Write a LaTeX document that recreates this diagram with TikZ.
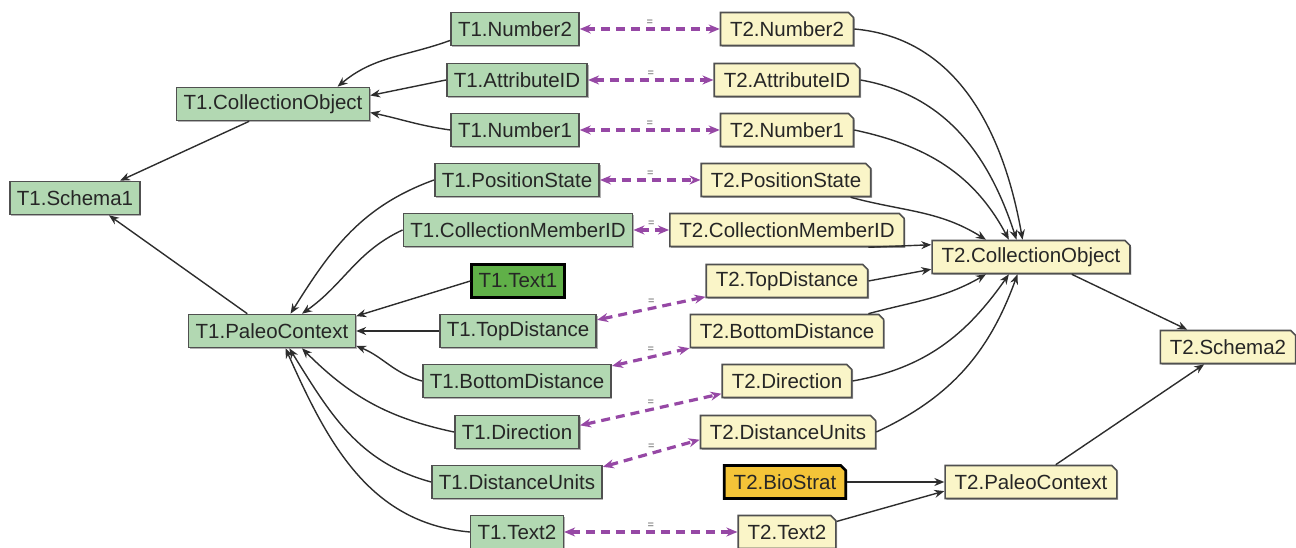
\documentclass[tikz,border=0pt]{standalone}
\usepackage{fontspec}
\setmainfont{Liberation Sans}
\usetikzlibrary{shapes.misc,arrows.meta,shadows}
\definecolor{gfill}{RGB}{178,216,178}
\definecolor{gdark}{RGB}{96,176,72}
\definecolor{yfill}{RGB}{250,245,200}
\definecolor{ydark}{RGB}{244,196,56}
\definecolor{boxline}{RGB}{80,80,80}
\definecolor{edgecol}{RGB}{45,45,45}
\definecolor{purp}{RGB}{150,72,165}
\begin{document}
\begin{tikzpicture}[x=1pt,y=1pt,
  base/.style={draw=boxline, line width=1.6pt, minimum height=33pt, inner xsep=7pt, inner ysep=2pt,
    font=\fontsize{20.5}{24}\selectfont, text=black!85,
    drop shadow={shadow xshift=1.3pt, shadow yshift=-1.3pt, opacity=0.3, fill=black}},
  gbox/.style={base, rectangle, fill=gfill},
  ybox/.style={base, chamfered rectangle, chamfered rectangle corners=north east,
    chamfered rectangle xsep=2.5pt, chamfered rectangle ysep=2.5pt, fill=yfill},
  strong/.style={draw=black, line width=2.6pt},
  edge/.style={draw=edgecol, line width=1.4pt, -{Stealth[length=10pt,width=8pt]}},
  match/.style={draw=purp, line width=3.2pt, dash pattern=on 9pt off 6pt,
    {Stealth[length=11pt,width=9pt]}-{Stealth[length=11pt,width=9pt]}},
  eq/.style={font=\fontsize{11}{11}\selectfont, text=gray!75!black, inner sep=0.5pt}
]
\useasboundingbox (0,0) rectangle (1296,548);

% T1 side
\node[gbox] (n2a) at (515,519) {T1.Number2};
\node[gbox] (aida) at (517,468) {T1.AttributeID};
\node[gbox] (n1a) at (515,418) {T1.Number1};
\node[gbox] (coa) at (273,444) {T1.CollectionObject};
\node[gbox] (s1) at (75,350) {T1.Schema1};
\node[gbox] (psa) at (517,368) {T1.PositionState};
\node[gbox] (cma) at (518,318) {T1.CollectionMemberID};
\node[gbox, strong, fill=gdark] (t1a) at (518,267) {T1.Text1};
\node[gbox] (pca) at (272,217) {T1.PaleoContext};
\node[gbox] (tda) at (518,217) {T1.TopDistance};
\node[gbox] (bda) at (517,167) {T1.BottomDistance};
\node[gbox] (dra) at (517,116) {T1.Direction};
\node[gbox] (dua) at (517,66) {T1.DistanceUnits};
\node[gbox] (t2a) at (517,16) {T1.Text2};

% T2 side
\node[ybox] (n2b) at (787,519) {T2.Number2};
\node[ybox] (aidb) at (787,468) {T2.AttributeID};
\node[ybox] (n1b) at (787,418) {T2.Number1};
\node[ybox] (psb) at (786,368) {T2.PositionState};
\node[ybox] (cmb) at (787,318) {T2.CollectionMemberID};
\node[ybox] (tdb) at (787,267) {T2.TopDistance};
\node[ybox] (bdb) at (787,217) {T2.BottomDistance};
\node[ybox] (drb) at (787,167) {T2.Direction};
\node[ybox] (dub) at (788,116) {T2.DistanceUnits};
\node[ybox, strong, fill=ydark] (bsb) at (785,66) {T2.BioStrat};
\node[ybox] (t2b) at (787,16) {T2.Text2};
\node[ybox] (cob) at (1031,291) {T2.CollectionObject};
\node[ybox] (s2) at (1228,201) {T2.Schema2};
\node[ybox] (pcb) at (1031,66) {T2.PaleoContext};

% T1 edges
\draw[edge] (n2a.190) to[out=200,in=40] (coa.15);
\draw[edge] (aida.west) -- (coa.5);
\draw[edge] (n1a.west) to[out=172,in=-12] (coa.-5);
\draw[edge] (coa.216) -- (s1.21);
\draw[edge] (pca.145) -- (s1.-27);
\draw[edge] (psa.west) to[out=200,in=58] (pca.43);
\draw[edge] (cma.west) to[out=205,in=35] (pca.30);
\draw[edge] (t1a.west) -- (pca.10);
\draw[edge] (tda.west) -- (pca.east);
\draw[edge] (bda.west) to[out=165,in=-22] (pca.-10);
\draw[edge] (dra.west) to[out=168,in=-45] (pca.-30);
\draw[edge] (dua.west) to[out=165,in=-58] (pca.-45);
\draw[edge] (t2a.west) to[out=175,in=-66] (pca.-52);

% T2 edges
\draw[edge] (n2b.east) to[out=-5,in=100] (cob.116);
\draw[edge] (aidb.east) to[out=-10,in=108] (cob.130);
\draw[edge] (n1b.east) to[out=-12,in=118] (cob.142);
\draw[edge] (psb.-15) to[out=-15,in=148] (cob.159);
\draw[edge] (cmb.-12) -- (cob.173);
\draw[edge] (tdb.east) -- (cob.187);
\draw[edge] (bdb.12) to[out=15,in=-150] (cob.201);
\draw[edge] (drb.east) to[out=10,in=-125] (cob.218);
\draw[edge] (dub.east) to[out=25,in=-110] (cob.232);
\draw[edge] (cob.-23) -- (s2.157);
\draw[edge] (pcb.35) -- (s2.216);
\draw[edge] (bsb.east) -- (pcb.west);
\draw[edge] (t2b.12) -- (pcb.186);

% matches
\draw[match] (n2a.east) -- node[eq, midway, above=1pt]{=} (n2b.west);
\draw[match] (aida.east) -- node[eq, midway, above=1pt]{=} (aidb.west);
\draw[match] (n1a.east) -- node[eq, midway, above=1pt]{=} (n1b.west);
\draw[match] (psa.east) -- node[eq, midway, above=1pt]{=} (psb.west);
\draw[match] (cma.east) -- node[eq, midway, above=1pt]{=} (cmb.west);
\draw[match] (tda.8) -- node[eq, midway, above=2pt]{=} (tdb.191);
\draw[match] (bda.9) -- node[eq, midway, above=2pt]{=} (bdb.190);
\draw[match] (dra.6) -- node[eq, midway, above=2pt]{=} (drb.191);
\draw[match] (dua.10) -- node[eq, midway, above=2pt]{=} (dub.185);
\draw[match] (t2a.east) -- node[eq, midway, above=1pt]{=} (t2b.west);
\end{tikzpicture}
\end{document}
